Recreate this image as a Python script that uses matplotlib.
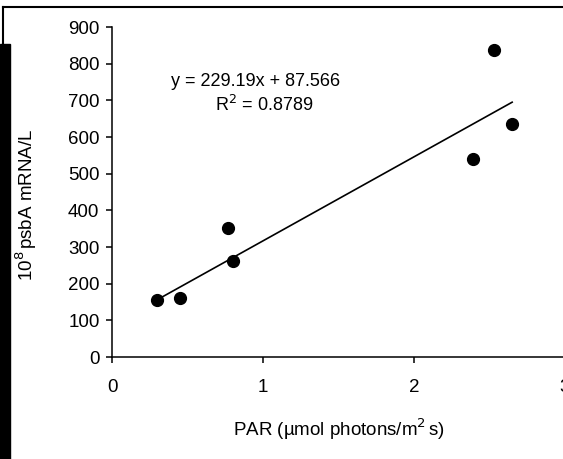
import numpy as np
import matplotlib.pyplot as plt
from matplotlib.lines import Line2D
from matplotlib.patches import Rectangle

plt.rcParams['font.family'] = ['Liberation Sans', 'DejaVu Sans']

par = [0.30, 0.45, 0.77, 0.80, 2.39, 2.53, 2.65]
mrna = [155, 160, 352, 263, 541, 836, 636]
slope, intercept = 229.19, 87.566
r2 = 0.8789

W, H = 563, 459
fig = plt.figure(figsize=(W / 100, H / 100), dpi=100)
ax = fig.add_axes([112 / W, (H - 357) / H, 453 / W, 330 / H])

ax.plot(par, mrna, 'o', color='black', markersize=8.5)
xfit = np.array([min(par), max(par)])
ax.plot(xfit, slope * xfit + intercept, color='black', lw=1.2)

ax.set_xlim(0, 3)
ax.set_ylim(0, 900)
ax.set_xticks([0, 1, 2, 3])
ax.set_yticks(range(0, 901, 100))
for s in ['top', 'right']:
    ax.spines[s].set_visible(False)
for s in ['left', 'bottom']:
    ax.spines[s].set_linewidth(1.1)
ax.tick_params(length=4, width=1.1, labelsize=13.5, pad=5)
ax.tick_params(axis='x', pad=12)
ax.set_xlabel(r'PAR (µmol photons/m$^2\!$ s)', fontsize=13.5)
ax.set_ylabel(r'10$^8\!$ psbA mRNA/L', fontsize=13.5)
ax.xaxis.set_label_coords(0.5, -0.18)
ax.yaxis.set_label_coords(-0.161, 0.46)

ax.text(0.95, 750, f'y = {slope}x + {intercept}', fontsize=13, ha='center', va='center')
ax.text(1.01, 688, f'R$^2$ = {r2}', fontsize=13, ha='center', va='center')

# frame remnants around the cropped figure
fig.add_artist(Line2D([3 / W, 1], [1 - 6.5 / H, 1 - 6.5 / H], color='black', lw=1.5,
                      transform=fig.transFigure))
fig.add_artist(Line2D([3 / W, 3 / W], [1 - 6.5 / H, 1 - 44 / H], color='black', lw=1.5,
                      transform=fig.transFigure))
fig.add_artist(Rectangle((0, 0), 10 / W, 1 - 44 / H, color='black',
                         transform=fig.transFigure))

fig.savefig('out.png', dpi=100)
